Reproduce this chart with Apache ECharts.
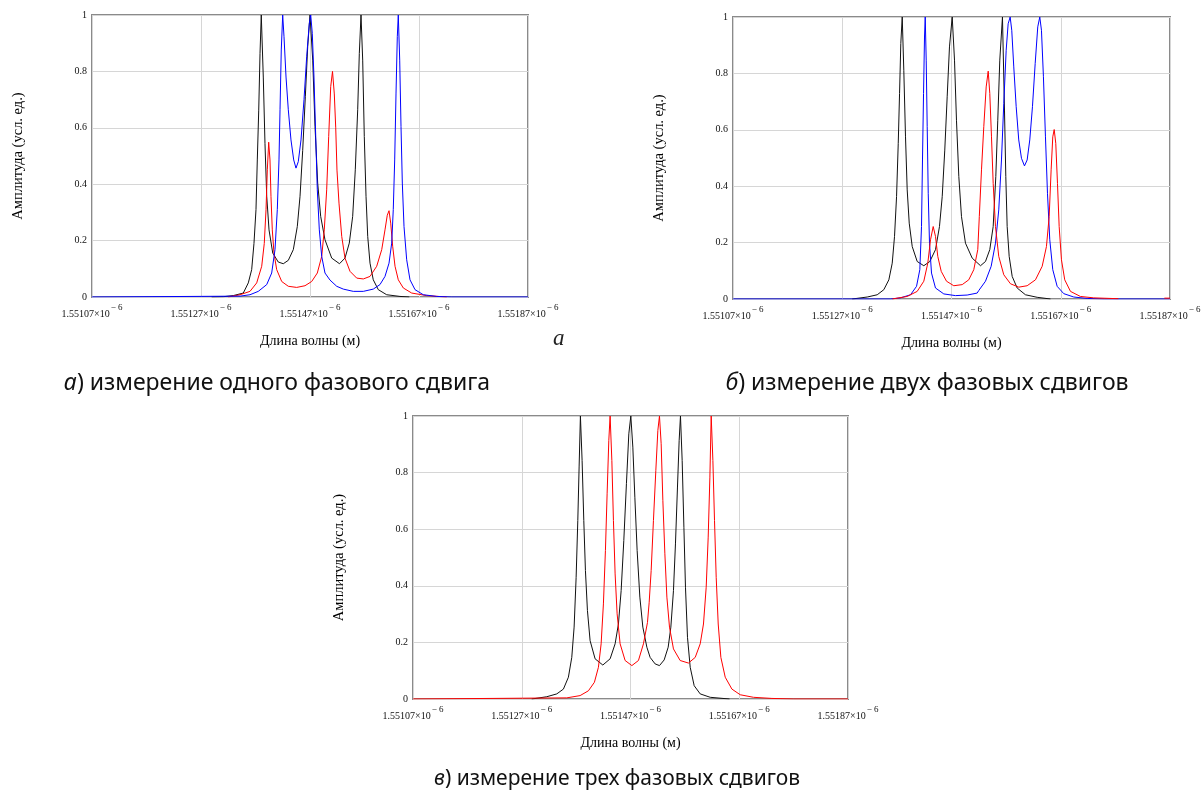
<!DOCTYPE html>
<html>
<head>
<meta charset="utf-8">
<script src="https://cdn.jsdelivr.net/npm/echarts@6/dist/echarts.min.js"></script>
<style>
  html, body { margin: 0; padding: 0; background: #fff; }
  #main { width: 1204px; height: 791px; }
</style>
</head>
<body>
<div id="main"></div>
<script>
// Wavelength is stored as a shift from 1551.07 nm, in picometres.
const LAMBDA_START_UM = 1.55107;
const X_TICK_STEP_PM = 200;
const X_SPAN_PM = 800;
const Y_TICK_STEP = 0.2;

// Panel а: one phase shift
const aBlack = [[219.6,0],[240.9,0.001],[259.3,0.005],[277.6,0.014],[286.8,0.05],[293.0,0.097],[297.2,0.19],[300.9,0.31],[303.3,0.486],[305.9,0.66],[308.3,0.864],[310.6,1.0],[314.3,0.78],[317.4,0.545],[320.6,0.357],[324.8,0.238],[331.6,0.156],[341.8,0.124],[351.0,0.118],[360.2,0.13],[369.4,0.168],[376.7,0.25],[381.7,0.357],[386.6,0.52],[391.4,0.71],[395.8,0.888],[400.0,1.0],[405.0,0.84],[409.2,0.605],[414.1,0.404],[419.6,0.286],[427.5,0.203],[439.8,0.138],[454.1,0.118],[464.2,0.138],[472.1,0.191],[478.3,0.286],[483.1,0.451],[487.5,0.664],[490.5,0.864],[493.6,1.0],[496.7,0.84],[499.6,0.569],[502.8,0.357],[505.9,0.215],[510.1,0.12],[516.1,0.061],[525.3,0.026],[540.7,0.008],[565.1,0.002],[582.2,0]];
const aBlue = [[0,0],[271.6,0.003],[289.9,0.008],[305.1,0.02],[320.6,0.044],[329.7,0.085],[335.8,0.168],[340.0,0.31],[343.1,0.486],[345.0,0.664],[347.3,0.876],[349.9,1.0],[352.3,0.923],[356.0,0.78],[360.2,0.664],[365.1,0.557],[370.1,0.486],[374.3,0.457],[378.5,0.48],[383.5,0.557],[389.0,0.70],[393.9,0.852],[398.7,0.97],[401.3,1.0],[404.2,0.935],[407.3,0.78],[410.5,0.569],[413.4,0.38],[417.1,0.238],[421.5,0.144],[427.5,0.085],[436.7,0.06],[449.0,0.038],[461.1,0.028],[479.4,0.02],[497.8,0.02],[516.1,0.028],[528.4,0.044],[537.6,0.073],[545.0,0.12],[549.9,0.191],[552.8,0.31],[555.4,0.486],[557.8,0.72],[560.2,0.923],[562.0,1.0],[564.6,0.84],[567.0,0.605],[569.4,0.404],[572.5,0.25],[577.4,0.132],[583.5,0.061],[592.7,0.026],[607.9,0.008],[632.5,0.002],[660,0],[800,0]];
const aRed = [[250.1,0],[271.6,0.008],[289.9,0.02],[302.2,0.05],[311.4,0.109],[316.1,0.19],[319.3,0.31],[321.7,0.451],[324.2,0.549],[326.6,0.486],[328.4,0.357],[330.8,0.238],[333.9,0.156],[338.9,0.097],[348.1,0.055],[360.2,0.038],[375.6,0.034],[390.8,0.04],[403.1,0.055],[413.4,0.085],[421.5,0.144],[426.2,0.238],[430.6,0.38],[434.3,0.569],[438.0,0.746],[441.3,0.80],[444.6,0.72],[447.2,0.6],[449.5,0.45],[453.2,0.333],[458.2,0.215],[464.2,0.138],[473.4,0.091],[485.7,0.067],[497.8,0.064],[510.1,0.073],[522.4,0.109],[531.6,0.168],[537.6,0.238],[541.8,0.29],[545.0,0.306],[548.1,0.262],[551.7,0.18],[556.0,0.109],[562.0,0.061],[571.2,0.032],[586.6,0.014],[614.1,0.005],[650.8,0]];

// Panel б: two phase shifts
const bBlack = [[218.3,0],[245.7,0.007],[264.0,0.015],[276.1,0.033],[285.3,0.068],[291.5,0.127],[295.7,0.222],[299.4,0.363],[302.5,0.552],[304.9,0.729],[307.2,0.906],[309.8,1.0],[312.7,0.811],[315.8,0.575],[318.9,0.387],[322.6,0.269],[328.1,0.186],[337.2,0.133],[349.3,0.118],[360.3,0.133],[370.7,0.175],[378.0,0.257],[383.0,0.363],[387.7,0.528],[392.1,0.717],[396.3,0.894],[401.3,1.0],[405.5,0.847],[409.1,0.634],[413.4,0.434],[418.3,0.292],[425.6,0.198],[437.9,0.145],[453.1,0.118],[462.2,0.133],[470.1,0.175],[476.3,0.257],[481.1,0.434],[484.7,0.634],[488.4,0.847],[493.3,1.0],[497.0,0.67],[499.4,0.434],[501.9,0.257],[505.6,0.151],[511.1,0.08],[520.2,0.039],[535.4,0.015],[556.8,0.006],[581.2,0]];
const bBlue = [[0,0],[288.2,0],[306.7,0.004],[325.0,0.015],[336.0,0.045],[342.0,0.104],[345.1,0.257],[346.9,0.493],[348.8,0.729],[350.6,0.929],[351.9,1.0],[353.7,0.847],[355.5,0.611],[357.4,0.375],[359.7,0.198],[363.4,0.092],[370.7,0.039],[385.9,0.018],[407.3,0.012],[428.7,0.014],[447.0,0.021],[449.9,0.03],[462.2,0.063],[472.6,0.116],[480.5,0.198],[486.5,0.316],[491.5,0.493],[495.7,0.693],[500.1,0.882],[503.7,0.976],[507.4,1.0],[510.3,0.953],[514.0,0.823],[518.4,0.682],[523.1,0.564],[528.1,0.499],[533.6,0.472],[538.5,0.493],[543.3,0.564],[548.2,0.682],[553.2,0.835],[557.9,0.965],[561.6,1.0],[564.7,0.953],[568.3,0.788],[572.0,0.575],[575.7,0.375],[579.9,0.21],[585.4,0.104],[593.4,0.045],[605.5,0.019],[623.8,0.007],[648.3,0.002],[680,0],[800,0]];
const bRed = [[291.5,0],[318.9,0.009],[337.2,0.027],[349.3,0.063],[356.6,0.127],[361.6,0.21],[366.5,0.257],[370.7,0.222],[374.9,0.151],[381.2,0.098],[390.9,0.063],[404.2,0.047],[419.6,0.051],[431.6,0.068],[440.8,0.104],[448.1,0.175],[450.9,0.292],[454.9,0.458],[459.1,0.611],[463.5,0.752],[467.2,0.808],[470.1,0.729],[473.2,0.575],[476.3,0.41],[480.5,0.257],[486.5,0.151],[495.7,0.086],[508.0,0.054],[523.1,0.042],[538.5,0.047],[553.7,0.068],[566.0,0.116],[573.8,0.186],[578.8,0.292],[582.4,0.458],[585.4,0.575],[588.0,0.601],[590.9,0.552],[594.0,0.41],[597.1,0.257],[601.3,0.139],[607.3,0.068],[617.8,0.027],[636.0,0.009],[660.4,0.004],[705.6,0.001]];
const bRedEdge = [[789.7,0.003],[800,0.003]];

// Panel в: three phase shifts
const cBlack = [[218.4,0],[246.0,0.008],[264.4,0.018],[276.6,0.035],[285.8,0.077],[292.0,0.147],[296.3,0.254],[300.0,0.43],[303.1,0.631],[305.5,0.82],[307.9,1.0],[311.0,0.843],[314.1,0.631],[317.1,0.454],[320.8,0.313],[325.7,0.206],[334.9,0.142],[349.1,0.12],[362.5,0.142],[371.7,0.195],[377.8,0.265],[382.8,0.383],[387.7,0.56],[392.5,0.761],[396.9,0.937],[400.6,1.0],[404.3,0.89],[408.0,0.713],[412.2,0.525],[417.2,0.36],[422.7,0.254],[430.1,0.183],[436.1,0.147],[445.3,0.124],[453.3,0.118],[461.9,0.138],[469.3,0.183],[474.2,0.254],[479.0,0.383],[482.7,0.548],[486.4,0.749],[489.5,0.914],[491.9,1.0],[495.0,0.843],[498.2,0.607],[501.1,0.395],[504.8,0.218],[509.8,0.112],[517.1,0.047],[528.2,0.018],[546.6,0.006],[582.1,0]];
const cRed = [[0,0],[282.8,0.004],[307.3,0.012],[322.6,0.029],[333.6,0.059],[341.0,0.112],[346.0,0.195],[350.2,0.336],[353.9,0.525],[357.0,0.725],[360.1,0.914],[362.5,1.0],[365.7,0.843],[368.6,0.631],[371.7,0.442],[375.4,0.301],[380.9,0.195],[390.1,0.136],[402.5,0.118],[414.6,0.136],[423.8,0.195],[431.2,0.27],[434.3,0.34],[438.0,0.454],[442.2,0.631],[446.6,0.808],[450.3,0.949],[453.3,1.0],[456.4,0.902],[459.5,0.702],[463.2,0.513],[466.9,0.36],[471.7,0.254],[479.0,0.177],[491.3,0.136],[506.6,0.127],[519.0,0.147],[528.2,0.195],[534.2,0.265],[539.2,0.395],[542.9,0.572],[546.0,0.784],[548.4,1.0],[551.5,0.843],[554.5,0.631],[557.6,0.43],[561.3,0.265],[566.2,0.147],[574.2,0.077],[586.5,0.035],[601.8,0.015],[626.2,0.006],[660.1,0.002],[700,0],[800,0]];

const X_NAME = 'Длина волны (м)';
const Y_NAME = 'Амплитуда (усл. ед.)';
const captions = [
  ['а', ') измерение одного фазового сдвига'],
  ['б', ') измерение двух фазовых сдвигов'],
  ['в', ') измерение трех фазовых сдвигов']
];

const BLACK = '#111111', BLUE = '#0000ff', RED = '#ff0000';
const SERIF = '"Liberation Serif", "DejaVu Serif", serif';
const SANS = '"Noto Sans", "Open Sans", sans-serif';

const grids = [
  { left: 92, top: 15, width: 436, height: 282 },
  { left: 733, top: 17, width: 437, height: 282 },
  { left: 413, top: 416, width: 435, height: 283 }
];

function xAxisFor(i) {
  return {
    type: 'value', gridIndex: i, min: 0, max: X_SPAN_PM, interval: X_TICK_STEP_PM,
    name: X_NAME, nameLocation: 'middle', nameGap: 37,
    nameTextStyle: { fontFamily: SERIF, fontSize: 14, color: '#000' },
    axisLine: { show: false },
    axisTick: { show: false },
    splitLine: { show: true, lineStyle: { color: '#d6d6d6', width: 1 } },
    axisLabel: {
      margin: 6,
      formatter: v => '{m|' + (LAMBDA_START_UM + v * 1e-6).toFixed(5) + '×10}{e|− 6}',
      rich: {
        m: { fontFamily: SERIF, fontSize: 10, color: '#111', verticalAlign: 'bottom', lineHeight: 16 },
        e: { fontFamily: SERIF, fontSize: 9, color: '#111', verticalAlign: 'top', lineHeight: 16, padding: [0, 0, 0, 1] }
      }
    }
  };
}

function yAxisFor(i) {
  return {
    type: 'value', gridIndex: i, min: 0, max: 1, interval: Y_TICK_STEP,
    name: Y_NAME, nameLocation: 'middle', nameGap: 66,
    nameTextStyle: { fontFamily: SERIF, fontSize: 14.5, color: '#000' },
    axisLine: { show: false },
    axisTick: { show: false },
    splitLine: { show: true, lineStyle: { color: '#d6d6d6', width: 1 } },
    axisLabel: { margin: 5, fontFamily: SERIF, fontSize: 10, color: '#111' }
  };
}

function line(data, color, gi) {
  return {
    type: 'line', data: data, xAxisIndex: gi, yAxisIndex: gi,
    showSymbol: false, symbol: 'none', smooth: false,
    lineStyle: { color: color, width: 1 }, itemStyle: { color: color },
    silent: true, animation: false
  };
}

// caption centre x, centre y, font size
const captionPos = [[277, 383, 23], [927, 383, 23], [617, 779, 21]];

const option = {
  animation: false,
  backgroundColor: '#ffffff',
  grid: grids.map(g => Object.assign({
    show: true, borderColor: '#8a8a8a', borderWidth: 2, backgroundColor: 'transparent'
  }, g)),
  xAxis: [0, 1, 2].map(xAxisFor),
  yAxis: [0, 1, 2].map(yAxisFor),
  series: [
    line(aBlack, BLACK, 0), line(aRed, RED, 0), line(aBlue, BLUE, 0),
    line(bBlack, BLACK, 1), line(bBlue, BLUE, 1), line(bRed, RED, 1), line(bRedEdge, RED, 1),
    line(cBlack, BLACK, 2), line(cRed, RED, 2)
  ],
  graphic: captions.map((c, i) => ({
    type: 'text', x: captionPos[i][0], y: captionPos[i][1],
    style: {
      text: '{i|' + c[0] + '}{t|' + c[1] + '}',
      textAlign: 'center', textVerticalAlign: 'middle',
      rich: {
        i: { fontFamily: SANS, fontSize: captionPos[i][2], fontStyle: 'italic', fill: '#111' },
        t: { fontFamily: SANS, fontSize: captionPos[i][2], fill: '#111' }
      }
    }
  })).concat([
    { type: 'text', x: 553, y: 327, style: { text: 'a', font: 'italic 23px ' + SERIF, fill: '#222' } }
  ])
};

const chart = echarts.init(document.getElementById('main'));
chart.setOption(option);
</script>
</body>
</html>
